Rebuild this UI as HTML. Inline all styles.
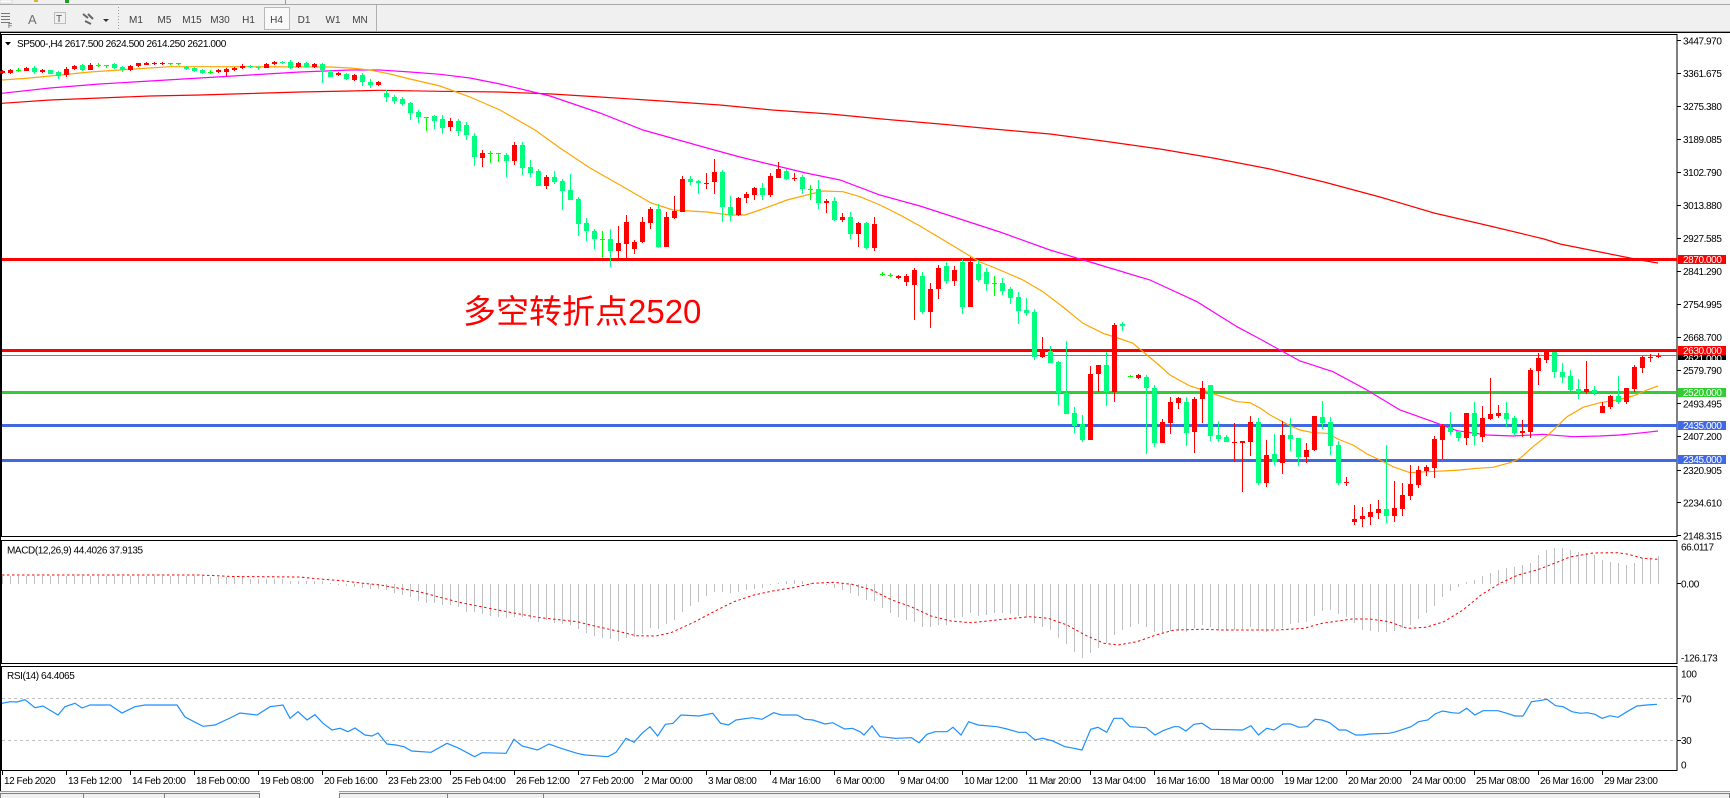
<!DOCTYPE html>
<html><head><meta charset="utf-8"><style>
html,body{margin:0;padding:0;background:#fff;}
svg{display:block;}
text{font-family:"Liberation Sans",sans-serif;}
</style></head><body>
<svg width="1730" height="798" viewBox="0 0 1730 798" xmlns="http://www.w3.org/2000/svg">
<!-- toolbar -->
<rect x="0" y="0" width="1730" height="33" fill="#f0f0f0"/>
<rect x="0" y="4" width="1730" height="1" fill="#a8a8a8"/>
<rect x="0" y="0" width="12" height="3" fill="#fff" stroke="#bbb" stroke-width="0.5"/>
<rect x="34" y="0" width="4" height="2" fill="#e0b030"/>
<rect x="65" y="0" width="4" height="3" fill="#20a020"/>
<rect x="285" y="0" width="1" height="4" fill="#999"/>
<g fill="#777"><rect x="1" y="13" width="9" height="1"/><rect x="1" y="16" width="9" height="1"/><rect x="1" y="19" width="9" height="1"/><rect x="1" y="22" width="9" height="1"/></g>
<text x="8" y="28" font-size="7" fill="#555">F</text>
<text x="28" y="24" font-size="13" fill="#707070">A</text>
<rect x="54.5" y="12.5" width="11" height="11" fill="none" stroke="#888" stroke-dasharray="1 1"/>
<text x="56" y="22" font-size="10" fill="#555">T</text>
<path d="M83 14l5 4M88 14l5 5M85 21l6 3" stroke="#666" stroke-width="2" fill="none"/>
<polygon points="103,19 109,19 106,22" fill="#333"/>
<g fill="#999"><rect x="118" y="7" width="1" height="1"/><rect x="118" y="10" width="1" height="1"/><rect x="118" y="13" width="1" height="1"/><rect x="118" y="16" width="1" height="1"/><rect x="118" y="19" width="1" height="1"/><rect x="118" y="22" width="1" height="1"/><rect x="118" y="25" width="1" height="1"/><rect x="118" y="28" width="1" height="1"/></g>
<rect x="264.5" y="7.5" width="25" height="22" fill="#f9f9f9" stroke="#b8b8b8"/>
<rect x="376" y="5" width="1" height="26" fill="#b0b0b0"/>
<g font-size="10" fill="#404040" text-anchor="middle">
<text x="136" y="23">M1</text><text x="164.5" y="23">M5</text><text x="192" y="23">M15</text><text x="220" y="23">M30</text><text x="248.5" y="23">H1</text><text x="276.5" y="23">H4</text><text x="304" y="23">D1</text><text x="333" y="23">W1</text><text x="360" y="23">MN</text>
</g>
<rect x="0" y="31" width="1730" height="1" fill="#a0a0a0"/>
<rect x="0" y="32" width="1730" height="1" fill="#000"/>
<!-- panels -->
<rect x="1.5" y="34.5" width="1675.5" height="502" fill="#fff" stroke="#000"/>
<rect x="1.5" y="540.5" width="1675.5" height="123" fill="#fff" stroke="#000"/>
<rect x="1.5" y="666.5" width="1675.5" height="104" fill="#fff" stroke="#000"/>
<rect x="0" y="33" width="1" height="758" fill="#000"/>

<g shape-rendering="crispEdges">
<!-- horizontal levels -->
<rect x="2" y="258" width="1675" height="3" fill="#ff0000"/>
<rect x="2" y="355" width="1675" height="1" fill="#808080"/>
<rect x="2" y="349" width="1675" height="3" fill="#ff0000"/>
<rect x="2" y="391" width="1675" height="3" fill="#32cd32"/>
<rect x="2" y="424" width="1675" height="3" fill="#4169e1"/>
<rect x="2" y="459" width="1675" height="3" fill="#4169e1"/>
</g>

<!-- moving averages -->
<g fill="none" stroke-width="1.2">
<polyline stroke="#ff0000" points="2,103.3 50,100 100,98 150,96 200,95 250,93.5 300,92 350,91 380,90.3 440,91.3 500,92 552,94 600,97 662,101 720,105 772,110 830,114 882,119 940,124 993,129 1050,134 1103,141 1160,149 1213,158 1270,169 1324,182 1380,197 1434,213 1490,226 1544,239 1560,244 1610,254 1640,260 1658,263"/>
<polyline stroke="#ff00ff" points="2,93.3 50,88 100,84 150,81 200,78 250,75 300,72 350,70 380,70 410,72 440,74.3 470,78 500,84 550,96 600,113 643,130 675,139 707,148 740,157 773,165 806,173 840,180 880,195 920,206 960,219 1000,232 1050,250 1100,265 1150,280 1197,301.7 1237,326.7 1260,339 1280,350 1300,361 1333,371.7 1367,390 1400,410 1433,421.7 1457,430.7 1487,435 1513,436 1543,434.3 1573,436.7 1600,436 1620,435 1643,432.7 1658,431"/>
<polyline stroke="#ffa500" points="2,80 30,78 60,75 90,72 120,70 170,66.7 250,66.7 330,67 350,68 370,70 390,74 410,79 440,86 470,97 500,110 535,130 560,148 590,168 620,185 651,203 673,210 707,212 730,215 745,215 760,210 787,200 807,195 823,191 843,191.7 860,196.7 880,205 900,215 920,226 940,238 960,250 980,262 1000,270 1023,280 1043,291.7 1063,307 1083,323.3 1103,333.3 1118,338 1133,343.3 1147,355 1160,366 1170,375 1190,386 1203,390 1217,395 1237,401.7 1250,402.7 1260,408 1270,415 1290,425.7 1300,430 1313,432.7 1327,433.3 1340,440 1353,445 1367,454 1380,460 1393,466.7 1410,472.7 1427,471.7 1443,471 1460,470 1477,468.3 1493,467.3 1510,462.7 1520,458.3 1533,446.7 1550,433.3 1567,416.7 1583,407.3 1600,402.7 1617,400 1633,396 1647,390 1658,386"/>
</g>

<g shape-rendering="crispEdges">
<!-- red (bull) wicks -->
<g fill="#ff0000">
<rect x="2" y="70" width="1" height="4"/><rect x="10" y="69" width="1" height="5"/><rect x="26" y="67" width="1" height="4"/><rect x="42" y="69" width="1" height="4"/><rect x="66" y="67" width="1" height="10"/><rect x="74" y="65" width="1" height="5"/><rect x="90" y="63" width="1" height="7"/><rect x="130" y="65" width="1" height="6"/><rect x="138" y="63" width="1" height="4"/><rect x="146" y="62" width="1" height="3"/><rect x="154" y="62" width="1" height="3"/><rect x="162" y="62" width="1" height="3"/><rect x="218" y="69" width="1" height="4"/><rect x="226" y="68" width="1" height="8"/><rect x="234" y="67" width="1" height="4"/><rect x="242" y="64" width="1" height="5"/><rect x="266" y="63" width="1" height="5"/><rect x="274" y="61" width="1" height="4"/><rect x="298" y="62" width="1" height="6"/><rect x="314" y="63" width="1" height="5"/><rect x="338" y="72" width="1" height="4"/><rect x="354" y="74" width="1" height="7"/><rect x="378" y="81" width="1" height="5"/><rect x="450" y="118" width="1" height="13"/><rect x="482" y="150" width="1" height="17"/><rect x="514" y="142" width="1" height="23"/><rect x="546" y="175" width="1" height="14"/><rect x="618" y="226" width="1" height="32"/><rect x="626" y="215" width="1" height="43"/><rect x="634" y="240" width="1" height="14"/><rect x="642" y="217" width="1" height="26"/><rect x="650" y="207" width="1" height="22"/><rect x="666" y="212" width="1" height="35"/><rect x="674" y="196" width="1" height="23"/><rect x="682" y="176" width="1" height="36"/><rect x="706" y="173" width="1" height="16"/><rect x="714" y="159" width="1" height="35"/><rect x="738" y="197" width="1" height="19"/><rect x="746" y="192" width="1" height="11"/><rect x="754" y="187" width="1" height="13"/><rect x="770" y="173" width="1" height="24"/><rect x="778" y="162" width="1" height="16"/><rect x="794" y="173" width="1" height="8"/><rect x="826" y="199" width="1" height="14"/><rect x="842" y="213" width="1" height="9"/><rect x="858" y="222" width="1" height="25"/><rect x="874" y="217" width="1" height="34"/><rect x="898" y="275" width="1" height="4"/><rect x="906" y="274" width="1" height="12"/><rect x="914" y="268" width="1" height="52"/><rect x="930" y="283" width="1" height="45"/><rect x="938" y="265" width="1" height="34"/><rect x="954" y="266" width="1" height="20"/><rect x="970" y="257" width="1" height="50"/><rect x="1042" y="337" width="1" height="21"/><rect x="1090" y="366" width="1" height="74"/><rect x="1098" y="365" width="1" height="27"/><rect x="1114" y="323" width="1" height="79"/><rect x="1138" y="374" width="1" height="5"/><rect x="1162" y="419" width="1" height="24"/><rect x="1170" y="397" width="1" height="37"/><rect x="1178" y="397" width="1" height="12"/><rect x="1194" y="397" width="1" height="56"/><rect x="1202" y="381" width="1" height="42"/><rect x="1234" y="423" width="1" height="39"/><rect x="1242" y="441" width="1" height="51"/><rect x="1250" y="416" width="1" height="40"/><rect x="1266" y="440" width="1" height="47"/><rect x="1282" y="421" width="1" height="53"/><rect x="1306" y="443" width="1" height="20"/><rect x="1314" y="416" width="1" height="35"/><rect x="1346" y="477" width="1" height="9"/><rect x="1354" y="505" width="1" height="20"/><rect x="1362" y="507" width="1" height="20"/><rect x="1370" y="504" width="1" height="21"/><rect x="1378" y="500" width="1" height="19"/><rect x="1394" y="481" width="1" height="41"/><rect x="1402" y="483" width="1" height="33"/><rect x="1410" y="465" width="1" height="35"/><rect x="1418" y="466" width="1" height="22"/><rect x="1426" y="465" width="1" height="11"/><rect x="1434" y="436" width="1" height="42"/><rect x="1442" y="424" width="1" height="35"/><rect x="1466" y="413" width="1" height="32"/><rect x="1482" y="406" width="1" height="36"/><rect x="1490" y="378" width="1" height="42"/><rect x="1498" y="405" width="1" height="13"/><rect x="1522" y="420" width="1" height="17"/><rect x="1530" y="368" width="1" height="70"/><rect x="1538" y="353" width="1" height="32"/><rect x="1546" y="351" width="1" height="12"/><rect x="1586" y="361" width="1" height="33"/><rect x="1602" y="402" width="1" height="11"/><rect x="1610" y="395" width="1" height="14"/><rect x="1626" y="388" width="1" height="16"/><rect x="1634" y="365" width="1" height="27"/><rect x="1642" y="356" width="1" height="17"/><rect x="1650" y="354" width="1" height="8"/><rect x="1658" y="353" width="1" height="5"/>
</g>
<!-- red bodies -->
<g fill="#ff0000">
<rect x="0" y="71" width="5" height="2"/><rect x="8" y="70" width="5" height="3"/><rect x="24" y="68" width="5" height="3"/><rect x="40" y="70" width="5" height="2"/><rect x="64" y="69" width="5" height="6"/><rect x="72" y="66" width="5" height="3"/><rect x="88" y="65" width="5" height="5"/><rect x="128" y="66" width="5" height="4"/><rect x="136" y="63" width="5" height="3"/><rect x="144" y="63" width="5" height="2"/><rect x="152" y="63" width="5" height="1"/><rect x="160" y="63" width="5" height="1"/><rect x="216" y="70" width="5" height="2"/><rect x="224" y="69" width="5" height="3"/><rect x="232" y="68" width="5" height="2"/><rect x="240" y="66" width="5" height="2"/><rect x="264" y="64" width="5" height="4"/><rect x="272" y="62" width="5" height="2"/><rect x="296" y="63" width="5" height="4"/><rect x="312" y="64" width="5" height="3"/><rect x="336" y="73" width="5" height="2"/><rect x="352" y="75" width="5" height="5"/><rect x="376" y="82" width="5" height="3"/><rect x="448" y="121" width="5" height="6"/><rect x="480" y="153" width="5" height="5"/><rect x="512" y="145" width="5" height="16"/><rect x="544" y="177" width="5" height="9"/><rect x="616" y="243" width="5" height="8"/><rect x="624" y="222" width="5" height="22"/><rect x="632" y="242" width="5" height="7"/><rect x="640" y="222" width="5" height="20"/><rect x="648" y="209" width="5" height="14"/><rect x="664" y="217" width="5" height="30"/><rect x="672" y="211" width="5" height="7"/><rect x="680" y="179" width="5" height="33"/><rect x="704" y="183" width="5" height="1"/><rect x="712" y="172" width="5" height="10"/><rect x="736" y="198" width="5" height="17"/><rect x="744" y="194" width="5" height="4"/><rect x="752" y="188" width="5" height="7"/><rect x="768" y="176" width="5" height="19"/><rect x="776" y="169" width="5" height="9"/><rect x="792" y="178" width="5" height="1"/><rect x="824" y="201" width="5" height="2"/><rect x="840" y="217" width="5" height="3"/><rect x="856" y="223" width="5" height="11"/><rect x="872" y="224" width="5" height="24"/><rect x="896" y="276" width="5" height="2"/><rect x="904" y="276" width="5" height="6"/><rect x="912" y="270" width="5" height="15"/><rect x="928" y="289" width="5" height="23"/><rect x="936" y="268" width="5" height="21"/><rect x="952" y="270" width="5" height="11"/><rect x="968" y="262" width="5" height="45"/><rect x="1040" y="351" width="5" height="6"/><rect x="1088" y="374" width="5" height="66"/><rect x="1096" y="365" width="5" height="9"/><rect x="1112" y="325" width="5" height="67"/><rect x="1136" y="375" width="5" height="3"/><rect x="1160" y="422" width="5" height="21"/><rect x="1168" y="402" width="5" height="21"/><rect x="1176" y="398" width="5" height="5"/><rect x="1192" y="399" width="5" height="33"/><rect x="1200" y="388" width="5" height="11"/><rect x="1232" y="442" width="5" height="1"/><rect x="1240" y="441" width="5" height="2"/><rect x="1248" y="422" width="5" height="20"/><rect x="1264" y="455" width="5" height="28"/><rect x="1280" y="435" width="5" height="28"/><rect x="1304" y="450" width="5" height="7"/><rect x="1312" y="416" width="5" height="34"/><rect x="1344" y="482" width="5" height="1"/><rect x="1352" y="519" width="5" height="3"/><rect x="1360" y="516" width="5" height="3"/><rect x="1368" y="512" width="5" height="5"/><rect x="1376" y="509" width="5" height="4"/><rect x="1392" y="508" width="5" height="8"/><rect x="1400" y="495" width="5" height="14"/><rect x="1408" y="484" width="5" height="12"/><rect x="1416" y="470" width="5" height="15"/><rect x="1424" y="467" width="5" height="4"/><rect x="1432" y="439" width="5" height="29"/><rect x="1440" y="426" width="5" height="14"/><rect x="1464" y="413" width="5" height="25"/><rect x="1480" y="418" width="5" height="19"/><rect x="1488" y="414" width="5" height="5"/><rect x="1496" y="413" width="5" height="3"/><rect x="1520" y="431" width="5" height="2"/><rect x="1528" y="370" width="5" height="62"/><rect x="1536" y="358" width="5" height="13"/><rect x="1544" y="352" width="5" height="8"/><rect x="1584" y="389" width="5" height="3"/><rect x="1600" y="406" width="5" height="7"/><rect x="1608" y="396" width="5" height="11"/><rect x="1624" y="388" width="5" height="14"/><rect x="1632" y="367" width="5" height="22"/><rect x="1640" y="357" width="5" height="11"/><rect x="1648" y="357" width="5" height="1"/><rect x="1656" y="356" width="5" height="1"/>
</g>
<!-- green (bear) wicks -->
<g fill="#00ff7f">
<rect x="34" y="66" width="1" height="8"/><rect x="50" y="70" width="1" height="4"/><rect x="58" y="71" width="1" height="8"/><rect x="82" y="64" width="1" height="7"/><rect x="114" y="63" width="1" height="6"/><rect x="122" y="66" width="1" height="6"/><rect x="186" y="66" width="1" height="4"/><rect x="194" y="67" width="1" height="5"/><rect x="202" y="69" width="1" height="5"/><rect x="250" y="65" width="1" height="3"/><rect x="258" y="66" width="1" height="4"/><rect x="282" y="61" width="1" height="3"/><rect x="290" y="60" width="1" height="9"/><rect x="306" y="62" width="1" height="6"/><rect x="322" y="63" width="1" height="20"/><rect x="330" y="70" width="1" height="7"/><rect x="346" y="73" width="1" height="7"/><rect x="362" y="73" width="1" height="13"/><rect x="370" y="79" width="1" height="9"/><rect x="386" y="90" width="1" height="12"/><rect x="394" y="95" width="1" height="9"/><rect x="402" y="97" width="1" height="9"/><rect x="410" y="102" width="1" height="18"/><rect x="418" y="110" width="1" height="13"/><rect x="434" y="115" width="1" height="14"/><rect x="442" y="115" width="1" height="19"/><rect x="458" y="119" width="1" height="17"/><rect x="466" y="122" width="1" height="18"/><rect x="474" y="133" width="1" height="33"/><rect x="506" y="153" width="1" height="24"/><rect x="522" y="142" width="1" height="33"/><rect x="530" y="160" width="1" height="17"/><rect x="538" y="169" width="1" height="17"/><rect x="554" y="171" width="1" height="13"/><rect x="562" y="179" width="1" height="31"/><rect x="570" y="174" width="1" height="26"/><rect x="578" y="197" width="1" height="39"/><rect x="586" y="218" width="1" height="23"/><rect x="594" y="229" width="1" height="20"/><rect x="610" y="229" width="1" height="38"/><rect x="658" y="204" width="1" height="44"/><rect x="690" y="176" width="1" height="9"/><rect x="698" y="180" width="1" height="14"/><rect x="722" y="170" width="1" height="52"/><rect x="730" y="196" width="1" height="25"/><rect x="762" y="183" width="1" height="17"/><rect x="786" y="169" width="1" height="11"/><rect x="802" y="175" width="1" height="19"/><rect x="818" y="180" width="1" height="29"/><rect x="834" y="197" width="1" height="24"/><rect x="850" y="212" width="1" height="27"/><rect x="866" y="222" width="1" height="27"/><rect x="922" y="272" width="1" height="42"/><rect x="946" y="262" width="1" height="22"/><rect x="962" y="259" width="1" height="55"/><rect x="978" y="260" width="1" height="22"/><rect x="986" y="268" width="1" height="23"/><rect x="1002" y="278" width="1" height="17"/><rect x="1010" y="287" width="1" height="17"/><rect x="1018" y="292" width="1" height="32"/><rect x="1026" y="298" width="1" height="18"/><rect x="1034" y="309" width="1" height="51"/><rect x="1050" y="346" width="1" height="17"/><rect x="1058" y="361" width="1" height="44"/><rect x="1066" y="341" width="1" height="73"/><rect x="1074" y="407" width="1" height="26"/><rect x="1082" y="415" width="1" height="27"/><rect x="1106" y="352" width="1" height="54"/><rect x="1122" y="322" width="1" height="9"/><rect x="1146" y="375" width="1" height="79"/><rect x="1154" y="385" width="1" height="62"/><rect x="1186" y="397" width="1" height="49"/><rect x="1210" y="385" width="1" height="56"/><rect x="1218" y="421" width="1" height="21"/><rect x="1226" y="435" width="1" height="7"/><rect x="1258" y="418" width="1" height="67"/><rect x="1274" y="434" width="1" height="31"/><rect x="1290" y="418" width="1" height="33"/><rect x="1298" y="438" width="1" height="28"/><rect x="1322" y="401" width="1" height="28"/><rect x="1330" y="417" width="1" height="38"/><rect x="1338" y="441" width="1" height="44"/><rect x="1386" y="445" width="1" height="78"/><rect x="1450" y="412" width="1" height="23"/><rect x="1458" y="431" width="1" height="10"/><rect x="1474" y="402" width="1" height="43"/><rect x="1506" y="402" width="1" height="25"/><rect x="1514" y="416" width="1" height="20"/><rect x="1554" y="352" width="1" height="26"/><rect x="1562" y="363" width="1" height="20"/><rect x="1570" y="370" width="1" height="21"/><rect x="1578" y="379" width="1" height="20"/><rect x="1594" y="386" width="1" height="9"/><rect x="1618" y="376" width="1" height="28"/>
</g>
<!-- green bodies -->
<g fill="#00ff7f">
<rect x="32" y="68" width="5" height="4"/><rect x="48" y="70" width="5" height="4"/><rect x="56" y="72" width="5" height="4"/><rect x="80" y="65" width="5" height="5"/><rect x="112" y="64" width="5" height="4"/><rect x="120" y="67" width="5" height="3"/><rect x="184" y="67" width="5" height="2"/><rect x="192" y="68" width="5" height="3"/><rect x="200" y="70" width="5" height="3"/><rect x="248" y="66" width="5" height="1"/><rect x="256" y="67" width="5" height="1"/><rect x="280" y="62" width="5" height="1"/><rect x="288" y="62" width="5" height="6"/><rect x="304" y="63" width="5" height="4"/><rect x="320" y="64" width="5" height="6"/><rect x="328" y="72" width="5" height="5"/><rect x="344" y="74" width="5" height="5"/><rect x="360" y="75" width="5" height="7"/><rect x="368" y="82" width="5" height="3"/><rect x="384" y="93" width="5" height="4"/><rect x="392" y="97" width="5" height="4"/><rect x="400" y="99" width="5" height="5"/><rect x="408" y="103" width="5" height="10"/><rect x="416" y="112" width="5" height="5"/><rect x="432" y="116" width="5" height="5"/><rect x="440" y="119" width="5" height="9"/><rect x="456" y="121" width="5" height="10"/><rect x="464" y="125" width="5" height="10"/><rect x="472" y="136" width="5" height="21"/><rect x="504" y="155" width="5" height="6"/><rect x="520" y="145" width="5" height="23"/><rect x="528" y="167" width="5" height="6"/><rect x="536" y="171" width="5" height="15"/><rect x="552" y="177" width="5" height="5"/><rect x="560" y="181" width="5" height="10"/><rect x="568" y="190" width="5" height="10"/><rect x="576" y="199" width="5" height="25"/><rect x="584" y="223" width="5" height="8"/><rect x="592" y="231" width="5" height="8"/><rect x="608" y="239" width="5" height="12"/><rect x="656" y="209" width="5" height="38"/><rect x="688" y="179" width="5" height="3"/><rect x="696" y="181" width="5" height="2"/><rect x="720" y="172" width="5" height="35"/><rect x="728" y="207" width="5" height="8"/><rect x="760" y="188" width="5" height="7"/><rect x="784" y="171" width="5" height="8"/><rect x="800" y="177" width="5" height="12"/><rect x="816" y="189" width="5" height="14"/><rect x="832" y="201" width="5" height="19"/><rect x="848" y="217" width="5" height="17"/><rect x="864" y="223" width="5" height="25"/><rect x="920" y="276" width="5" height="36"/><rect x="944" y="266" width="5" height="15"/><rect x="960" y="262" width="5" height="45"/><rect x="976" y="264" width="5" height="16"/><rect x="984" y="272" width="5" height="12"/><rect x="1000" y="283" width="5" height="8"/><rect x="1008" y="289" width="5" height="9"/><rect x="1016" y="297" width="5" height="14"/><rect x="1024" y="310" width="5" height="3"/><rect x="1032" y="312" width="5" height="45"/><rect x="1048" y="351" width="5" height="12"/><rect x="1056" y="362" width="5" height="31"/><rect x="1064" y="393" width="5" height="21"/><rect x="1072" y="413" width="5" height="13"/><rect x="1080" y="424" width="5" height="16"/><rect x="1104" y="365" width="5" height="27"/><rect x="1120" y="324" width="5" height="2"/><rect x="1144" y="377" width="5" height="11"/><rect x="1152" y="388" width="5" height="55"/><rect x="1184" y="402" width="5" height="31"/><rect x="1208" y="385" width="5" height="51"/><rect x="1216" y="435" width="5" height="4"/><rect x="1224" y="437" width="5" height="5"/><rect x="1256" y="422" width="5" height="61"/><rect x="1272" y="454" width="5" height="8"/><rect x="1288" y="435" width="5" height="4"/><rect x="1296" y="438" width="5" height="19"/><rect x="1320" y="417" width="5" height="6"/><rect x="1328" y="422" width="5" height="24"/><rect x="1336" y="445" width="5" height="38"/><rect x="1384" y="509" width="5" height="7"/><rect x="1448" y="427" width="5" height="5"/><rect x="1456" y="431" width="5" height="7"/><rect x="1472" y="413" width="5" height="23"/><rect x="1504" y="413" width="5" height="6"/><rect x="1512" y="418" width="5" height="15"/><rect x="1552" y="352" width="5" height="20"/><rect x="1560" y="372" width="5" height="5"/><rect x="1568" y="376" width="5" height="14"/><rect x="1576" y="389" width="5" height="3"/><rect x="1592" y="390" width="5" height="3"/><rect x="1616" y="396" width="5" height="6"/>
</g>
<!-- lime doji -->
<g fill="#00ff00">
<rect x="16" y="70" width="5" height="1"/><rect x="18" y="68" width="1" height="4"/>
<rect x="96" y="65" width="5" height="1"/><rect x="98" y="63" width="1" height="4"/>
<rect x="104" y="65" width="5" height="1"/><rect x="106" y="65" width="1" height="3"/>
<rect x="168" y="63" width="5" height="1"/><rect x="170" y="63" width="1" height="2"/>
<rect x="176" y="63" width="5" height="1"/><rect x="178" y="63" width="1" height="2"/>
<rect x="208" y="72" width="5" height="1"/><rect x="210" y="70" width="1" height="4"/>
<rect x="424" y="117" width="5" height="1"/><rect x="426" y="117" width="1" height="14"/>
<rect x="488" y="153" width="5" height="1"/><rect x="490" y="151" width="1" height="12"/>
<rect x="496" y="153" width="5" height="1"/><rect x="498" y="153" width="1" height="9"/>
<rect x="600" y="239" width="5" height="1"/><rect x="602" y="231" width="1" height="27"/>
<rect x="808" y="189" width="5" height="1"/><rect x="810" y="185" width="1" height="15"/>
<rect x="880" y="274" width="5" height="1"/><rect x="882" y="272" width="1" height="4"/>
<rect x="888" y="275" width="5" height="1"/><rect x="890" y="273" width="1" height="4"/>
<rect x="992" y="283" width="5" height="1"/><rect x="994" y="276" width="1" height="20"/>
<rect x="1128" y="376" width="5" height="1"/><rect x="1130" y="375" width="1" height="2"/>
</g>
</g>

<!-- annotation -->
<text x="463" y="323" font-size="33" fill="#ff0000" font-family="'Liberation Sans','Noto Sans CJK SC',sans-serif">多空转折点2520</text>

<!-- header text -->
<polygon points="5,42 11,42 8,45.5" fill="#000"/>
<text x="17" y="47" font-size="10" letter-spacing="-0.4" fill="#000">SP500-,H4  2617.500 2624.500 2614.250 2621.000</text>

<!-- MACD -->
<path stroke="#c0c0c0" stroke-width="1" fill="none" shape-rendering="crispEdges" d="M2.5 584V576M10.5 584V576M18.5 584V576M26.5 584V576M34.5 584V576M42.5 584V576M50.5 584V576M58.5 584V576M66.5 584V576M74.5 584V576M82.5 584V576M90.5 584V576M98.5 584V576M106.5 584V576M114.5 584V576M122.5 584V576M130.5 584V576M138.5 584V576M146.5 584V576M154.5 584V576M162.5 584V576M170.5 584V576M178.5 584V576M186.5 584V576M194.5 584V576M202.5 584V576M210.5 584V577M218.5 584V577M226.5 584V577M234.5 584V577M242.5 584V577M250.5 584V579M258.5 584V579M266.5 584V579M274.5 584V579M282.5 584V579M290.5 584V581M298.5 584V581M306.5 584V581M314.5 584V581M322.5 584V581M330.5 584V583M338.5 584V585M346.5 584V586M354.5 584V587M362.5 584V588M370.5 584V589M378.5 584V589M386.5 584V590M394.5 584V593M402.5 584V595M410.5 584V597M418.5 584V601M426.5 584V603M434.5 584V603M442.5 584V605M450.5 584V605M458.5 584V607M466.5 584V612M474.5 584V612M482.5 584V614M490.5 584V616M498.5 584V617M506.5 584V618M514.5 584V617M522.5 584V617M530.5 584V619M538.5 584V622M546.5 584V620M554.5 584V623M562.5 584V624M570.5 584V625M578.5 584V629M586.5 584V633M594.5 584V636M602.5 584V638M610.5 584V639M618.5 584V641M626.5 584V638M634.5 584V637M642.5 584V634M650.5 584V628M658.5 584V629M666.5 584V624M674.5 584V620M682.5 584V612M690.5 584V606M698.5 584V602M706.5 584V596M714.5 584V592M722.5 584V592M730.5 584V593M738.5 584V592M746.5 584V590M754.5 584V589M762.5 584V588M770.5 584V585M778.5 584V583M786.5 584V581M794.5 584V580M802.5 584V581M810.5 584V583M826.5 584V585M834.5 584V588M842.5 584V590M850.5 584V593M858.5 584V596M866.5 584V600M874.5 584V601M882.5 584V608M890.5 584V613M898.5 584V617M906.5 584V620M914.5 584V622M922.5 584V627M930.5 584V627M938.5 584V625M946.5 584V625M954.5 584V618M962.5 584V617M970.5 584V613M978.5 584V616M986.5 584V615M994.5 584V613M1002.5 584V613M1010.5 584V614M1018.5 584V616M1026.5 584V617M1034.5 584V623M1042.5 584V627M1050.5 584V630M1058.5 584V638M1066.5 584V644M1074.5 584V652M1082.5 584V658M1090.5 584V653M1098.5 584V648M1106.5 584V643M1114.5 584V635M1122.5 584V630M1130.5 584V627M1138.5 584V624M1146.5 584V627M1154.5 584V632M1162.5 584V633M1170.5 584V631M1178.5 584V631M1186.5 584V632M1194.5 584V628M1202.5 584V625M1210.5 584V627M1218.5 584V630M1226.5 584V631M1234.5 584V630M1242.5 584V629M1250.5 584V627M1258.5 584V630M1266.5 584V632M1274.5 584V629M1282.5 584V628M1290.5 584V624M1298.5 584V623M1306.5 584V622M1314.5 584V616M1322.5 584V611M1330.5 584V610M1338.5 584V614M1346.5 584V617M1354.5 584V623M1362.5 584V630M1370.5 584V631M1378.5 584V632M1386.5 584V632M1394.5 584V631M1402.5 584V628M1410.5 584V625M1418.5 584V619M1426.5 584V613M1434.5 584V606M1442.5 584V597M1450.5 584V591M1458.5 584V587M1466.5 584V582M1474.5 584V580M1482.5 584V576M1490.5 584V573M1498.5 584V570M1506.5 584V568M1514.5 584V567M1522.5 584V565M1530.5 584V563M1538.5 584V555M1546.5 584V550M1554.5 584V548M1562.5 584V548M1570.5 584V550M1578.5 584V552M1586.5 584V553M1594.5 584V555M1602.5 584V560M1610.5 584V562M1618.5 584V563M1626.5 584V565M1634.5 584V563M1642.5 584V558M1650.5 584V558M1658.5 584V556"/>
<polyline fill="none" stroke="#ff0000" stroke-width="1" stroke-dasharray="2.5 2.5" points="2,575 200,575 233,576.5 300,577 320,579 345,581 360,583 380,585 419,591.7 459,602.3 498,610 537,617.3 577,621.7 600,627.3 616,630.7 636,635.7 656,636 671,632.7 695,621.7 715,611 734,601.7 754,595 774,590.7 793,587.7 813,583.3 833,582.3 852,584.3 872,590 892,600 911,606.7 931,616 951,621 971,622.7 997,620 1030,616.7 1048,618.3 1067,625 1085,635 1104,643.3 1118,645 1137,641.7 1156,635 1174,630 1204,629.3 1222,630 1278,630 1304,628.3 1322,623.3 1352,619 1370,619 1389,621.7 1407,628.3 1426,627.3 1444,621.7 1463,610 1481,595 1500,583.3 1518,575 1537,570 1556,562.7 1570,557 1593,553 1617,552.7 1627,554 1643,558.3 1658,559.3"/>
<text x="7" y="553.5" font-size="10" letter-spacing="-0.4" fill="#000">MACD(12,26,9) 44.4026 37.9135</text>

<!-- RSI -->
<line x1="2" y1="698.5" x2="1677" y2="698.5" stroke="#c0c0c0" stroke-dasharray="3 3"/>
<line x1="2" y1="740.5" x2="1677" y2="740.5" stroke="#c0c0c0" stroke-dasharray="3 3"/>
<polyline fill="none" stroke="#1e90ff" stroke-width="1.2" points="2,703.3 10,701.7 17,702 25,699.7 35,707.7 43,706 58,715 65,706.7 75,703.3 82,708 90,705 110,705 122,713 135,706.7 145,705 177,705 185,717 203,726.3 215,725 230,718 240,713 257,715 270,706.7 283,705 290,718.3 298,711.7 307,720 315,714.7 323,723.3 332,730 340,728.3 348,731.7 355,728 365,735 372,736 378,733 387,744 396,745 404,746.7 411.5,751 431,752.3 447,743.3 459,748.3 474.5,756.7 482,752.7 506,753.3 514,739.3 522,746 537.5,750 549,744 561,748.3 577,753.3 585,755 608,756.7 616,752.3 626,738.3 634,742.3 642,733.3 650,726.7 657.6,736 665.4,724.3 673,723.3 681,715 699,716 712.7,713.3 720.6,723.3 728.4,725 736,720 752,717.7 762,719.3 773.7,712.7 781.6,715 797,715 805,719.3 813,720 825,724 832.7,722.7 844.6,729 852.4,728.3 860,731.7 864,735 872,726 880,736.7 896,738.3 911.5,737.7 919,742.7 927,734.3 935,731.7 947,731.7 953,727.3 961,735 968.6,721.7 978,725 997,726.7 1007,729 1018.5,732.3 1026,732.3 1035,740 1042.6,738.3 1052,740.7 1065,746.7 1074,748.3 1082,750 1090.7,729.3 1098,727.3 1106.7,732.3 1114,718.3 1122,718.3 1130,726.7 1146,727.7 1155,735 1163,730.7 1174,726.7 1179,726.7 1186,731 1194,724.3 1202,723.3 1211,729.3 1242.6,730 1251,725.7 1258.5,735 1266.7,728.3 1274,730 1283,724 1290.7,724 1299,727.3 1307,726.7 1315,719.3 1322,720 1329.6,722.7 1339,730 1346,730 1355.6,735 1363,735 1370,734 1389,733.3 1396,731.7 1411,726.7 1418.5,721.7 1427.8,720 1435,714 1442.6,711 1452,712.7 1459,713.3 1466.7,708.3 1474.8,715 1483,710.7 1498,710.7 1507,713.3 1515,716 1523,716 1531.5,701.7 1539,700.7 1547,699.3 1555.6,705.7 1563,706.7 1572,711.7 1580.7,713.3 1587,712.7 1595,714.3 1602,718.3 1610,715.7 1618,717.3 1627,711.7 1637,706 1647,705 1657,704.3"/>
<text x="7" y="679" font-size="10" letter-spacing="-0.4" fill="#000">RSI(14) 64.4065</text>

<!-- right axis ticks -->
<path stroke="#000" stroke-width="1" d="M1677 40.5h4M1677 73.5h4M1677 106.5h4M1677 139.5h4M1677 172.5h4M1677 205.5h4M1677 238.5h4M1677 271.5h4M1677 304.5h4M1677 337.5h4M1677 370.5h4M1677 403.5h4M1677 436.5h4M1677 470.5h4M1677 502.5h4M1677 535.5h4M1677 583.5h4M1677 698.5h4M1677 740.5h4"/>
<g font-size="10" letter-spacing="-0.4" fill="#000">
<text x="1683" y="44.5">3447.970</text><text x="1683" y="77">3361.675</text><text x="1683" y="110">3275.380</text><text x="1683" y="142.8">3189.085</text><text x="1683" y="176">3102.790</text><text x="1683" y="209">3013.880</text><text x="1683" y="242">2927.585</text><text x="1683" y="274.8">2841.290</text><text x="1683" y="308">2754.995</text><text x="1683" y="341">2668.700</text><text x="1683" y="374">2579.790</text><text x="1683" y="407.5">2493.495</text><text x="1683" y="440">2407.200</text><text x="1683" y="473.8">2320.905</text><text x="1683" y="506.5">2234.610</text><text x="1683" y="539.5">2148.315</text>
<text x="1681" y="550.5">66.0117</text><text x="1681" y="587.5">0.00</text><text x="1681" y="661.5">-126.173</text>
<text x="1681" y="677.5">100</text><text x="1681" y="702.3">70</text><text x="1681" y="743.8">30</text><text x="1681" y="768.5">0</text>
</g>
<!-- colored price labels -->
<g shape-rendering="crispEdges">
<rect x="1678" y="255" width="48" height="9" fill="#ff0000"/>
<rect x="1678" y="351" width="48" height="9" fill="#000"/>
<rect x="1678" y="346" width="48" height="9" fill="#ff0000"/>
<rect x="1678" y="388" width="48" height="9" fill="#32cd32"/>
<rect x="1678" y="421" width="48" height="9" fill="#4169e1"/>
<rect x="1678" y="455" width="48" height="9" fill="#4169e1"/>
</g>
<g font-size="10" letter-spacing="-0.4" fill="#fff">
<text x="1683" y="263">2870.000</text>
<text x="1683" y="362">2621.000</text>
<text x="1683" y="354">2630.000</text>
<text x="1683" y="396">2520.000</text>
<text x="1683" y="429">2435.000</text>
<text x="1683" y="463">2345.000</text>
</g>

<!-- time axis -->
<path stroke="#000" stroke-width="1" d="M2.5 771v4M66.5 771v4M130.5 771v4M194.5 771v4M258.5 771v4M322.5 771v4M386.5 771v4M450.5 771v4M514.5 771v4M578.5 771v4M642.5 771v4M706.5 771v4M770.5 771v4M834.5 771v4M898.5 771v4M962.5 771v4M1026.5 771v4M1090.5 771v4M1154.5 771v4M1218.5 771v4M1282.5 771v4M1346.5 771v4M1410.5 771v4M1474.5 771v4M1538.5 771v4M1602.5 771v4"/>
<g font-size="10" letter-spacing="-0.45" fill="#000">
<text x="4" y="784">12 Feb 2020</text><text x="68" y="784">13 Feb 12:00</text><text x="132" y="784">14 Feb 20:00</text><text x="196" y="784">18 Feb 00:00</text><text x="260" y="784">19 Feb 08:00</text><text x="324" y="784">20 Feb 16:00</text><text x="388" y="784">23 Feb 23:00</text><text x="452" y="784">25 Feb 04:00</text><text x="516" y="784">26 Feb 12:00</text><text x="580" y="784">27 Feb 20:00</text><text x="644" y="784">2 Mar 00:00</text><text x="708" y="784">3 Mar 08:00</text><text x="772" y="784">4 Mar 16:00</text><text x="836" y="784">6 Mar 00:00</text><text x="900" y="784">9 Mar 04:00</text><text x="964" y="784">10 Mar 12:00</text><text x="1028" y="784">11 Mar 20:00</text><text x="1092" y="784">13 Mar 04:00</text><text x="1156" y="784">16 Mar 16:00</text><text x="1220" y="784">18 Mar 00:00</text><text x="1284" y="784">19 Mar 12:00</text><text x="1348" y="784">20 Mar 20:00</text><text x="1412" y="784">24 Mar 00:00</text><text x="1476" y="784">25 Mar 08:00</text><text x="1540" y="784">26 Mar 16:00</text><text x="1604" y="784">29 Mar 23:00</text>
</g>

<!-- bottom tabs -->
<rect x="0" y="791" width="1730" height="7" fill="#f0f0f0"/>
<rect x="0" y="791" width="1730" height="1" fill="#a0a0a0"/>
<rect x="0.5" y="793.5" width="259" height="6" fill="#f0f0f0" stroke="#808080"/>
<rect x="83" y="794" width="1" height="4" fill="#808080"/>
<rect x="164" y="794" width="1" height="4" fill="#808080"/>
<rect x="260" y="791" width="79" height="7" fill="#fff"/>
<rect x="339.5" y="793.5" width="1390" height="6" fill="#f0f0f0" stroke="#808080"/>
<rect x="447" y="794" width="1" height="4" fill="#808080"/>
<rect x="543" y="794" width="1" height="4" fill="#808080"/>
</svg>
</body></html>
